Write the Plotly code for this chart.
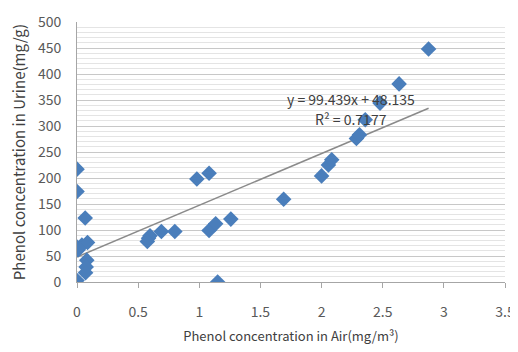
import plotly.graph_objects as go

air = [0.0, 0.0, 0.067, 0.0, 0.01, 0.04, 0.086, 0.08, 0.075, 0.07, 0.0,
       0.585, 0.597, 0.575, 0.69, 0.80, 0.98, 1.08, 1.08, 1.134, 1.258, 1.15,
       1.69, 2.0, 2.056, 2.083, 2.285, 2.31, 2.357, 2.478, 2.634, 2.875]
urine = [217, 174, 123, 67, 62, 71, 76, 42, 29, 18, 3,
         84, 89, 78, 97, 97, 198, 209, 99, 112, 121, 0,
         159, 204, 225, 235, 276, 283, 312, 344, 381, 448]

slope = 99.439
intercept = 48.135
eq_text = "y = 99.439x + 48.135"
r2_text = "R² = 0.7177"

x_ticks = [0, 0.5, 1, 1.5, 2, 2.5, 3, 3.5]
y_ticks = [0, 50, 100, 150, 200, 250, 300, 350, 400, 450, 500]

xmin, xmax = min(air), max(air)
fig = go.Figure()
fig.add_trace(go.Scatter(
    x=[xmin, xmax], y=[slope * xmin + intercept, slope * xmax + intercept],
    mode="lines", line=dict(color="#8a8a8a", width=1.5), showlegend=False))
fig.add_trace(go.Scatter(
    x=air, y=urine, mode="markers",
    marker=dict(symbol="diamond", size=12, color="#4a7ebb"),
    showlegend=False))

fig.add_annotation(x=2.24, y=352, text=eq_text, showarrow=False,
                   font=dict(size=14, color="#404040"), xanchor="center", yanchor="middle")
fig.add_annotation(x=2.24, y=313, text=r2_text, showarrow=False,
                   font=dict(size=14, color="#404040"), xanchor="center", yanchor="middle")

fig.update_layout(
    width=510, height=344,
    margin=dict(l=69, r=13, t=14, b=70),
    paper_bgcolor="white", plot_bgcolor="white",
    font=dict(family="Noto Sans CJK KR, Noto Sans, sans-serif", color="#595959", size=14),
    xaxis=dict(range=[0, 3.5], tickvals=x_ticks, ticktext=[str(t) for t in x_ticks],
               showgrid=False, zeroline=False, showline=True, linecolor="#a6a6a6",
               ticks="outside", ticklen=5, tickcolor="#a6a6a6",
               ticklabelstandoff=12, ticklabeloverflow="allow", automargin=False,
               title=dict(text="Phenol concentration in Air(mg/m³)", standoff=12,
                          font=dict(size=13, color="#404040"))),
    yaxis=dict(range=[0, 500], tickvals=y_ticks,
               showgrid=True, gridcolor="#c8c8c8", gridwidth=1,
               minor=dict(dtick=10, showgrid=True, gridcolor="#e4e4e4", gridwidth=1),
               zeroline=False, showline=True, linecolor="#a6a6a6",
               ticks="", ticklabelstandoff=12, automargin=False,
               title=dict(text="Phenol concentration in Urine(mg/g)", standoff=14,
                          font=dict(size=15, color="#404040"))),
)

fig.write_html("out.html")
